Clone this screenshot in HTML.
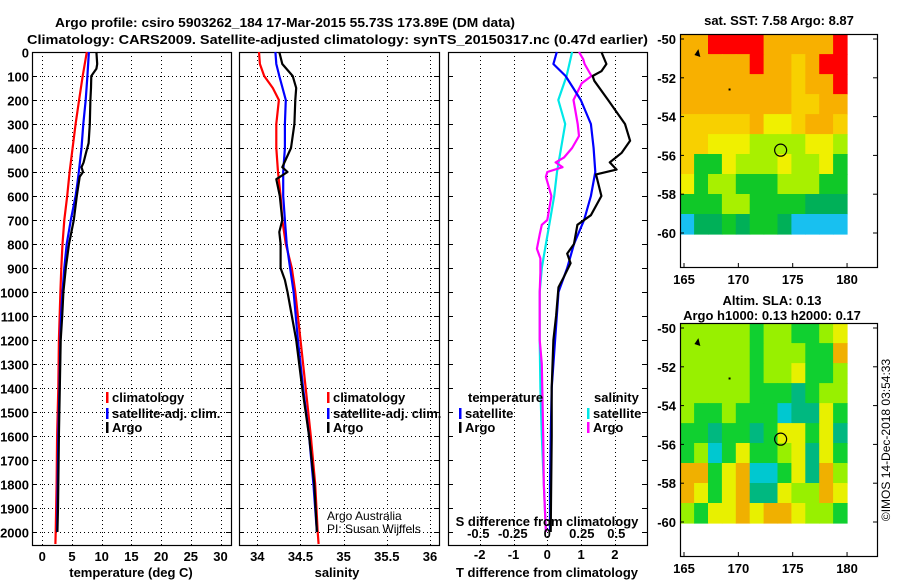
<!DOCTYPE html>
<html><head><meta charset="utf-8"><style>
body{margin:0;background:#fff}
svg{display:block;font-family:"Liberation Sans",sans-serif}
.t{font-weight:bold;font-size:13px}
</style></head><body>
<svg id="c" width="900" height="580" viewBox="0 0 900 580" xmlns="http://www.w3.org/2000/svg">
<rect width="900" height="580" fill="#fff"/>
<text x="55" y="27" class="t" font-size="14" textLength="460" lengthAdjust="spacingAndGlyphs">Argo profile: csiro 5903262_184 17-Mar-2015 55.73S 173.89E (DM data)</text>
<text x="27" y="44" class="t" font-size="14" textLength="621" lengthAdjust="spacingAndGlyphs">Climatology: CARS2009. Satellite-adjusted climatology: synTS_20150317.nc (0.47d earlier)</text>
<g id="g"></g>
</svg>
<script>
// ---- data ----
const depthTicks=[0,100,200,300,400,500,600,700,800,900,1000,1100,1200,1300,1400,1500,1600,1700,1800,1900,2000];
const tTicks=[0,5,10,15,20,25,30];
const sTicks=[34,34.5,35,35.5,36];
const dTTicks=[-2,-1,0,1,2];
const dSTicks=[-0.5,-0.25,0,0.25,0.5];
const dSTickLabels=['-0.5','-0.25','0','0.25','0.5'];
const lonTicks=[165,170,175,180];
const latTicks=[-50,-52,-54,-56,-58,-60];

const tClimDepth=[0,100,200,300,400,500,600,700,800,900,1000,1200,1400,1600,1800,2000,2050];
const tClim=[7.5,6.8,6.2,5.6,5.1,4.6,4.2,3.7,3.4,3.2,3.05,2.8,2.7,2.5,2.4,2.25,2.2];
const tSatDepth=[0,100,200,300,400,500,550,600,700,800,900,1000,1100,1200,1400,1600,1800,2000];
const tSat=[7.85,7.6,7.3,6.9,6.6,6.15,5.9,5.6,4.8,4.1,3.7,3.4,3.15,3.05,2.9,2.7,2.6,2.5];
const tArgoDepth=[0,50,70,100,150,200,300,380,420,460,480,500,520,600,700,800,900,1000,1100,1200,1400,1600,1800,1900,2000];
const tArgo=[9.1,9.25,9.1,8.25,8.2,8.1,8.0,7.8,7.35,6.95,6.6,6.85,6.3,5.8,5.3,4.5,3.95,3.55,3.35,3.1,2.95,2.8,2.7,2.65,2.55];

const sClimDepth=[0,50,100,150,200,300,400,500,600,700,800,900,1000,1200,1400,1600,1800,2000,2050];
const sClim=[34.02,34.03,34.08,34.18,34.25,34.22,34.22,34.24,34.27,34.29,34.33,34.40,34.44,34.50,34.56,34.62,34.67,34.70,34.71];
const sSatDepth=[0,50,100,200,300,400,500,600,700,800,900,1000,1200,1400,1600,1800,2000];
const sSat=[34.21,34.22,34.255,34.33,34.32,34.32,34.30,34.30,34.32,34.34,34.38,34.42,34.47,34.53,34.60,34.65,34.69];
const sArgoDepth=[0,50,100,150,200,300,400,480,500,530,600,700,750,800,900,950,1000,1200,1400,1600,1800,2000];
const sArgo=[34.255,34.29,34.41,34.45,34.44,34.43,34.39,34.29,34.35,34.22,34.26,34.29,34.255,34.27,34.27,34.32,34.35,34.45,34.52,34.60,34.66,34.69];

const dTSatDepth=[0,50,100,200,300,400,500,600,700,800,900,1000,1100,1200,1400,1600,1800,2000];
const dTSat=[0.28,0.18,0.54,0.99,1.29,1.37,1.42,1.29,1.09,0.79,0.59,0.33,0.28,0.23,0.13,0.1,0.08,0.08];
const dTArgoDepth=[0,50,80,100,120,200,300,370,420,460,490,510,600,680,720,800,840,880,940,980,1100,1200,1400,1600,2000];
const dTArgo=[1.6,1.75,1.6,1.34,1.39,1.8,2.3,2.45,2.2,1.85,2.05,1.44,1.6,1.29,0.89,0.79,0.59,0.69,0.48,0.33,0.26,0.18,0.13,0.13,0.1];
const dSSatDepth=[0,100,200,300,400,500,600,700,800,900,1000,1200,1400,1600,1800,2000];
const dSSat=[0.18,0.14,0.08,0.13,0.1,0.07,0.05,0.02,-0.01,-0.04,-0.055,-0.055,-0.05,-0.04,-0.025,-0.01];
const dSArgoDepth=[0,30,50,100,130,200,300,350,400,440,460,480,500,520,600,700,720,760,820,860,920,1000,1200,1300,1600,1800,2000];
const dSArgo=[0.23,0.26,0.27,0.32,0.25,0.19,0.22,0.23,0.18,0.12,0.06,0.11,0.0,-0.01,0.03,0.0,-0.04,-0.055,-0.075,-0.05,-0.05,-0.055,-0.055,-0.04,-0.03,-0.025,-0.01];

// SST map grid (12 lon cols x 10 lat rows) as colour class indices
const sstColors=['#18c0f0','#00b058','#10c828','#a8f000','#f0f000','#f8d000','#f8b000','#ff0000'];
const sstGrid=[
[6,6,7,7,7,7,6,6,6,6,6,7],
[6,6,6,6,6,7,6,6,5,6,7,7],
[6,6,6,6,6,6,6,6,5,6,6,7],
[6,6,6,6,6,6,6,6,5,5,6,6],
[5,5,5,5,5,6,4,4,5,6,6,5],
[5,5,4,4,4,3,3,3,3,4,4,3],
[5,2,2,4,3,3,3,4,3,3,4,2],
[4,2,3,3,2,2,2,3,3,3,2,2],
[2,2,2,3,3,2,2,2,2,1,1,1],
[0,1,1,2,1,2,2,1,0,0,0,0]];
const slaColors=['#f0b000','#e8f000','#98f000','#10d030','#00b880','#00c8d0'];
const slaGrid=[
[2,2,2,2,2,3,2,2,3,3,2,1],
[2,2,2,2,2,3,2,2,2,3,3,0],
[2,2,2,2,2,3,2,2,1,3,3,2],
[2,2,2,2,2,3,3,3,4,3,2,2],
[2,3,3,2,3,3,3,5,4,4,1,3],
[3,3,4,3,3,4,3,1,1,3,1,4],
[3,2,5,3,1,3,3,2,1,4,1,3],
[0,0,3,1,0,5,5,3,1,4,0,2],
[0,1,3,1,0,4,4,1,2,2,0,1],
[2,3,1,1,0,1,0,0,1,2,2,3]];
const argoLon=[173.89], argoLat=[-55.73];

// ---- drawing ----
const NS='http://www.w3.org/2000/svg';
const G=document.getElementById('g');
function el(tag,attrs,parent){const e=document.createElementNS(NS,tag);for(const k in attrs)e.setAttribute(k,attrs[k]);(parent||G).appendChild(e);return e;}
const Y0=52,Y1=545;
const yD=d=>Y0+d*0.24;

function panel(name,x0,x1,xs,vticks,vlabels,showY,labelY){
  const g=el('g',{});
  
  
  vticks.forEach((v,i)=>{
    const x=Math.round(xs(v))+0.5;
    const l=el('line',{x1:x,x2:x,y1:Y0,y2:Y1,stroke:'#000','stroke-width':1,'stroke-dasharray':'1,3','shape-rendering':'crispEdges'},g);
    
    
    if(labelY){const t=el('text',{x:xs(v),y:labelY,'text-anchor':'middle',class:'t'},g);t.textContent=vlabels?vlabels[i]:String(v);
      
      }
  });
  depthTicks.forEach(d=>{
    const y=Math.round(yD(d))+0.5;
    if(name!=='diff-panel'){const l=el('line',{x1:x0,x2:x1,y1:y,y2:y,stroke:'#000','stroke-width':1,'stroke-dasharray':'1,3','shape-rendering':'crispEdges'},g);
      
      }
    el('line',{x1:x0,x2:x0+5,y1:y,y2:y,stroke:'#000'},g);
    el('line',{x1:x1-5,x2:x1,y1:y,y2:y,stroke:'#000'},g);
    if(showY){const t=el('text',{x:29,y:y+5,'text-anchor':'end',class:'t'},g);t.textContent=d;
      
      }
  });
  const r=el('rect',{x:x0+.5,y:Y0+.5,width:x1-x0,height:Y1-Y0,fill:'none',stroke:'#000','stroke-width':1.2},g);
  
  
  return g;
}
function series(g,name,depths,vals,xs,color){
  let p='';
  vals.forEach((v,i)=>{p+=(i?'L':'M')+xs(v).toFixed(1)+','+yD(depths[i]).toFixed(1);});
  const e=el('path',{d:p,fill:'none',stroke:color,'stroke-width':2.2,'stroke-linejoin':'round'},g);
  
  
}
function text(x,y,s,name,attrs){const t=el('text',Object.assign({x:x,y:y,class:'t'},attrs||{}));t.textContent=s;
  
  return t;}
function legend(x,y,label,color,name){
  const r=el('rect',{x:x,y:y-10,width:2.5,height:11,fill:color});
  
  
  text(x+6,y,label,name);
}

// panel 1 temperature
const xT=v=>42.3+v*5.94;
const p1=panel('temperature-panel',32,231,xT,tTicks,null,true,561);
series(p1,'temp-climatology-line',tClimDepth,tClim,xT,'#ff0000');
series(p1,'temp-satellite-line',tSatDepth,tSat,xT,'#0000ff');
series(p1,'temp-argo-line',tArgoDepth,tArgo,xT,'#000');
text(131,577,'temperature (deg C)','x-axis-title-temperature',{'text-anchor':'middle'});
legend(106,402,'climatology','#ff0000','legend-climatology');
legend(106,418,'satellite-adj. clim.','#0000ff','legend-satellite');
legend(106,432,'Argo','#000','legend-argo');

// panel 2 salinity
const xS=v=>257.3+(v-34)*86.35;
const p2=panel('salinity-panel',239,439,xS,sTicks,null,false,561);
series(p2,'sal-climatology-line',sClimDepth,sClim,xS,'#ff0000');
series(p2,'sal-satellite-line',sSatDepth,sSat,xS,'#0000ff');
series(p2,'sal-argo-line',sArgoDepth,sArgo,xS,'#000');
text(337,577,'salinity','x-axis-title-salinity',{'text-anchor':'middle'});
legend(327,402,'climatology','#ff0000','legend-sal-climatology');
legend(327,418,'satellite-adj. clim.','#0000ff','legend-sal-satellite');
legend(327,432,'Argo','#000','legend-sal-argo');
text(327,520,'Argo Australia','credit-line-1',{'font-weight':'normal',class:'','font-size':'12'});
text(327,533,'PI: Susan Wijffels','credit-line-2',{'font-weight':'normal',class:'','font-size':'12'});

// panel 3 differences
const xdT=v=>547.3+v*33.8;
const xdS=v=>547.3+v*138;
const p3=panel('diff-panel',448,647,xdT,dTTicks,null,false,559);
dSTicks.forEach((v,i)=>text(xdS(v),538,dSTickLabels[i],'s-diff-tick-label',{'text-anchor':'middle'}));
series(p3,'diff-s-satellite-line',dSSatDepth,dSSat,xdS,'#00e8e8');
series(p3,'diff-s-argo-line',dSArgoDepth,dSArgo,xdS,'#ff00ff');
series(p3,'diff-t-satellite-line',dTSatDepth,dTSat,xdT,'#0000ff');
series(p3,'diff-t-argo-line',dTArgoDepth,dTArgo,xdT,'#000');
text(547,526,'S difference from climatology','s-diff-axis-title',{'text-anchor':'middle'});
text(547,577,'T difference from climatology','t-diff-axis-title',{'text-anchor':'middle'});
text(468,402,'temperature','legend-temperature-header');
legend(459,418,'satellite','#0000ff','legend-t-satellite');
legend(459,432,'Argo','#000','legend-t-argo');
text(594,402,'salinity','legend-salinity-header');
legend(587,418,'satellite','#00e8e8','legend-s-satellite');
legend(587,432,'Argo','#ff00ff','legend-s-argo');

// maps
function map(name,top,grid,colors){
  const g=el('g',{});
  
  
  const lx=v=>684+(v-165)*10.87;
  const ly=v=>top+5+(-50-v)*19.4;
  const rows=grid.length, cols=grid[0].length;
  const lon0=164.65,lon1=180,lat0=-49.75,lat1=-60.05;
  for(let r=0;r<rows;r++)for(let c=0;c<cols;c++){
    const xa=lx(lon0+(lon1-lon0)*c/cols), xb=lx(lon0+(lon1-lon0)*(c+1)/cols);
    const ya=ly(lat0+(lat1-lat0)*r/rows), yb=ly(lat0+(lat1-lat0)*(r+1)/rows);
    const cell=el('rect',{x:xa.toFixed(1),y:ya.toFixed(1),width:(xb-xa+0.6).toFixed(1),height:(yb-ya+0.6).toFixed(1),fill:colors[grid[r][c]]},g);
    
    
  }
  el('path',{d:`M${lx(166.1)},${ly(-50.8)}l2,-3l1,4z M${lx(169.1)},${ly(-52.6)}l2,0`,stroke:'#000','stroke-width':2,fill:'#000'},g);
  argoLon.forEach((lo,i)=>{const c=el('circle',{cx:lx(lo),cy:ly(argoLat[i]),r:6,fill:'none',stroke:'#000','stroke-width':1.2},g);
    
    });
  const fr=el('rect',{x:680.5,y:top+.5,width:197,height:233,fill:'none',stroke:'#000','stroke-width':1.2},g);
  
  
  latTicks.forEach(v=>{const y=ly(v);
    el('line',{x1:680,x2:684,y1:y,y2:y,stroke:'#000'},g);
    el('line',{x1:873,x2:878,y1:y,y2:y,stroke:'#000'},g);
    text(676,y+5,String(v),'lat-tick-label',{'text-anchor':'end'});});
  lonTicks.forEach(v=>{const x=lx(v);
    el('line',{x1:x,x2:x,y1:top+229,y2:top+234,stroke:'#000'},g);
    text(x,top+250,String(v),'lon-tick-label',{'text-anchor':'middle'});});
}
map('sst-map',34,sstGrid,sstColors);
map('sla-map',323,slaGrid,slaColors);
text(779,25,'sat. SST: 7.58 Argo: 8.87','sst-map-title',{'text-anchor':'middle'});
text(772,305,'Altim. SLA: 0.13','sla-map-title',{'text-anchor':'middle'});
text(772,320,'Argo h1000: 0.13 h2000: 0.17','sla-map-subtitle',{'text-anchor':'middle'});
text(0,0,'©IMOS 14-Dec-2018 03:54:33','copyright-timestamp',{'text-anchor':'middle',class:'','font-size':'12',transform:'translate(890,440) rotate(-90)'});
</script>
</body></html>
